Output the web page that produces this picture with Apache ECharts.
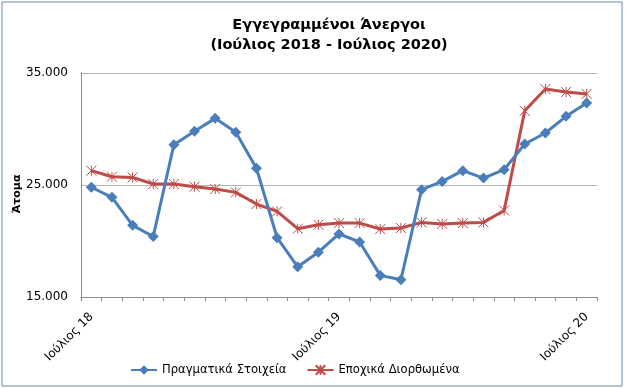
<!DOCTYPE html>
<html>
<head>
<meta charset="utf-8">
<script src="https://cdn.jsdelivr.net/npm/echarts@6/dist/echarts.min.js"></script>
<style>
html,body{margin:0;padding:0;background:#fff;}
#c{width:625px;height:388px;}
</style>
</head>
<body>
<div id="c"></div>
<script>
var categories = [
  'Ιούλιος 18','Αύγουστος 18','Σεπτέμβριος 18','Οκτώβριος 18','Νοέμβριος 18','Δεκέμβριος 18',
  'Ιανουάριος 19','Φεβρουάριος 19','Μάρτιος 19','Απρίλιος 19','Μάιος 19','Ιούνιος 19',
  'Ιούλιος 19','Αύγουστος 19','Σεπτέμβριος 19','Οκτώβριος 19','Νοέμβριος 19','Δεκέμβριος 19',
  'Ιανουάριος 20','Φεβρουάριος 20','Μάρτιος 20','Απρίλιος 20','Μάιος 20','Ιούνιος 20','Ιούλιος 20'
];
var actualValues = [
  24800, 23900, 21400, 20400, 28600, 29800, 30950, 29700, 26500, 20300, 17700, 19000,
  20630, 19910, 16930, 16540, 24580, 25320, 26280, 25620, 26370, 28660, 29640, 31130, 32320
];
var seasonalValues = [
  26280, 25740, 25680, 25090, 25090, 24850, 24640, 24340, 23300, 22640, 21100, 21450,
  21600, 21600, 21070, 21160, 21660, 21520, 21600, 21660, 22730, 31630, 33570, 33300, 33130
];
var seriesNames = ['Πραγματικά Στοιχεία', 'Εποχικά Διορθωμένα'];
var titleText = 'Εγγεγραμμένοι Άνεργοι\n(Ιούλιος 2018 - Ιούλιος 2020)';
var yAxisName = 'Άτομα';
var yTickLabels = {15000: '15.000', 25000: '25.000', 35000: '35.000'};

var FONT = 'DejaVu Sans';
var BLUE = '#4a7ebb';
var RED = '#be4b48';

var chart = echarts.init(document.getElementById('c'), null, {renderer: 'canvas'});
chart.setOption({
  backgroundColor: '#fff',
  animation: false,
  title: {
    text: titleText,
    left: 329,
    top: 15,
    padding: 0,
    textAlign: 'center',
    textStyle: {fontFamily: FONT, fontSize: 14.5, fontWeight: 'bold', color: '#000', lineHeight: 20}
  },
  graphic: [{
    type: 'rect',
    shape: {x: 2, y: 2, width: 620, height: 384},
    style: {fill: 'none', stroke: '#9ab3c9', lineWidth: 1.5},
    silent: true
  }, {
    type: 'text',
    x: 17,
    y: 194,
    rotation: Math.PI / 2,
    style: {
      text: yAxisName,
      fontFamily: FONT,
      fontSize: 11,
      fontWeight: 'bold',
      fill: '#000',
      align: 'center',
      verticalAlign: 'middle'
    },
    silent: true
  }],
  legend: {
    left: 130,
    top: 364,
    padding: 0,
    itemWidth: 26,
    itemHeight: 12,
    itemGap: 20,
    textStyle: {fontFamily: FONT, fontSize: 11.6, color: '#000'},
    data: seriesNames
  },
  grid: {left: 81, right: 28, top: 73, bottom: 91, containLabel: false},
  xAxis: {
    type: 'category',
    data: categories,
    boundaryGap: true,
    axisLine: {lineStyle: {color: '#8c8c8c', width: 1}},
    axisTick: {show: true, interval: 0, length: 4, lineStyle: {color: '#8c8c8c'}},
    axisLabel: {
      interval: 11,
      rotate: 45,
      margin: 18,
      fontFamily: FONT,
      fontSize: 12,
      color: '#000'
    },
    splitLine: {show: false}
  },
  yAxis: {
    type: 'value',
    min: 15000,
    max: 35000,
    interval: 5000,
    axisLine: {show: true, lineStyle: {color: '#8c8c8c', width: 1}},
    axisTick: {show: false},
    axisLabel: {
      margin: 13,
      fontFamily: FONT,
      fontSize: 12,
      color: '#000',
      formatter: function (v) { return yTickLabels[v] || ''; }
    },
    splitLine: {show: true, lineStyle: {color: ['#b4b4b4', 'rgba(0,0,0,0)'], width: 1}}
  },
  series: [{
    name: seriesNames[0],
    type: 'line',
    data: actualValues,
    symbol: 'diamond',
    symbolSize: 11,
    color: BLUE,
    lineStyle: {color: BLUE, width: 3},
    itemStyle: {color: BLUE},
    z: 3
  }, {
    name: seriesNames[1],
    type: 'line',
    data: seasonalValues,
    symbol: 'path://M0,0L10,10M10,0L0,10M5,0L5,10',
    symbolSize: 10,
    color: RED,
    lineStyle: {color: RED, width: 3},
    itemStyle: {color: RED, borderColor: RED, borderWidth: 1},
    z: 2
  }]
});
</script>
</body>
</html>
